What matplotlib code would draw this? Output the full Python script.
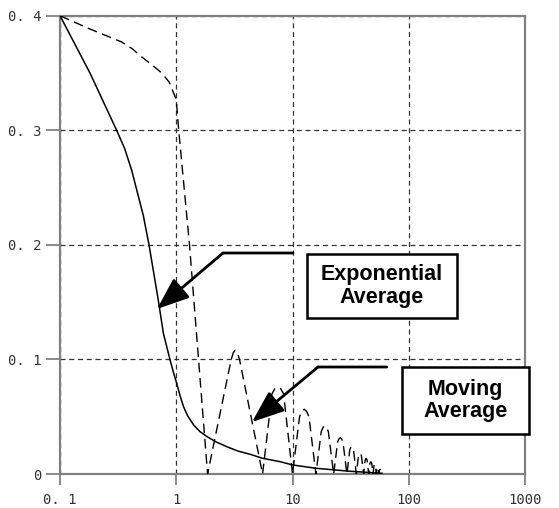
import matplotlib
matplotlib.use("Agg")
import matplotlib.pyplot as plt
from matplotlib.patches import Rectangle

# ---------------- data ----------------
x_ticks = [0.1, 1, 10, 100, 1000]
x_tick_labels = ["0. 1", "1", "10", "100", "1000"]
y_ticks = [0, 0.1, 0.2, 0.3, 0.4]
y_tick_labels = ["0", "0. 1", "0. 2", "0. 3", "0. 4"]

# exponential average (solid)
exp_x = [0.1, 0.181, 0.307, 0.36, 0.414, 0.521, 0.583, 0.70, 0.775, 0.885,
         0.95, 1.01, 1.08, 1.156, 1.25, 1.41, 1.6, 1.84, 2.2, 2.73, 3.4,
         4.33, 5.53, 7.85, 10.0, 15.9, 29.4, 59.0]
exp_y = [0.4, 0.350, 0.300, 0.284, 0.265, 0.2255, 0.200, 0.152, 0.1228, 0.0995,
         0.088, 0.079, 0.068, 0.0587, 0.051, 0.0428, 0.037, 0.0326, 0.028, 0.0238, 0.020,
         0.0172, 0.0137, 0.0107, 0.0079, 0.0050, 0.0026, 0.0006]

# moving average (dashed)
mov_x = [0.1, 0.175, 0.34, 0.42, 0.505, 0.62, 0.75, 0.87, 0.944, 1.0,
         1.05, 1.30, 1.555, 1.86,
         2.97, 3.1, 3.21, 3.35, 3.5, 5.53,
         6.66, 7.05, 7.45, 7.9, 8.38, 10.0,
         11.5, 12.05, 12.6, 13.2, 13.85, 15.9,
         17.67, 18.3, 18.96, 19.63, 20.34, 22.6,
         24.45, 25.1, 25.78, 26.47, 27.17, 29.4,
         31.08, 31.67, 32.26, 32.87, 33.49, 35.4,
         36.96, 37.51, 38.05, 38.6, 39.17, 40.9,
         42.14, 43.0, 43.86, 45.2,
         46.39, 47.21, 48.03, 49.3,
         50.27, 50.93, 51.59, 52.6,
         53.4, 54.0, 54.6, 55.4,
         56.1, 56.6, 57.1, 57.8]
mov_y = [0.4, 0.389, 0.377, 0.371, 0.364, 0.357, 0.350, 0.342, 0.333, 0.327,
         0.300, 0.200, 0.100, 0.0,
         0.100, 0.106, 0.108, 0.106, 0.100, 0.0,
         0.070, 0.0745, 0.0757, 0.0745, 0.070, 0.0,
         0.050, 0.0548, 0.0565, 0.0548, 0.050, 0.0,
         0.037, 0.0406, 0.0419, 0.0406, 0.037, 0.0,
         0.028, 0.0307, 0.0317, 0.0307, 0.028, 0.0,
         0.021, 0.0231, 0.0238, 0.0231, 0.021, 0.0,
         0.0159, 0.0175, 0.0180, 0.0175, 0.0159, 0.0,
         0.0121, 0.0137, 0.0121, 0.0,
         0.0094, 0.0107, 0.0094, 0.0,
         0.0075, 0.0085, 0.0075, 0.0,
         0.0053, 0.0060, 0.0053, 0.0,
         0.0035, 0.0040, 0.0035, 0.0]

labels = ["Exponential\nAverage", "Moving\nAverage"]

# ---------------- figure ----------------
W, H = 559, 508
fig = plt.figure(figsize=(W / 100, H / 100), dpi=100)
ax = fig.add_axes([60 / W, 1 - 474 / H, (525 - 60) / W, (474 - 15.7) / H])

ax.set_xscale("log")
ax.set_xlim(0.1, 1000)
ax.set_ylim(0, 0.4)

ax.plot(exp_x, exp_y, color="black", lw=1.1, zorder=3)
ax.plot(mov_x, mov_y, color="black", lw=1.0, dashes=(7, 4), zorder=3)

ax.set_xticks(x_ticks)
ax.set_xticklabels(x_tick_labels)
ax.set_yticks(y_ticks)
ax.set_yticklabels(y_tick_labels)
ax.minorticks_off()

for lab in ax.get_xticklabels() + ax.get_yticklabels():
    lab.set_fontfamily("DejaVu Sans Mono")
    lab.set_fontsize(10)
    lab.set_color("#333333")
ax.tick_params(axis="y", direction="out", length=10, width=1.2,
               color="#777777", pad=3)
ax.tick_params(axis="x", direction="out", length=8, width=1.2,
               color="#777777", pad=6)

ax.grid(True, linestyle=(0, (4, 3)), color="#333333", lw=0.9)
ax.set_axisbelow(True)
for s in ax.spines.values():
    s.set_color("#808080")
    s.set_linewidth(1.6)


def fx(px):
    return px / W


def fy(py):
    return 1 - py / H


# boxes
for (x0, y0, x1, y1) in [(306.7, 254, 456.7, 318), (401.7, 367, 529.3, 434)]:
    fig.add_artist(Rectangle((fx(x0), fy(y1)), fx(x1) - fx(x0), fy(y0) - fy(y1),
                             transform=fig.transFigure, fill=True,
                             facecolor="white", edgecolor="black", lw=1.8,
                             zorder=5))

fig.text(fx(381.7), fy(286), labels[0], ha="center", va="center",
         fontsize=15.5, fontweight="bold", family="Liberation Sans",
         linespacing=1.1, zorder=6)
fig.text(fx(465.5), fy(400.5), labels[1], ha="center", va="center",
         fontsize=15.5, fontweight="bold", family="Liberation Sans",
         linespacing=1.1, zorder=6)

# leader lines with arrows
for (hx, hy, kx, ky, tx, ty) in [(293, 253, 223, 253, 157, 309),
                                 (386.7, 367, 318, 367, 252, 422)]:
    ax.annotate("", xy=(fx(kx), fy(ky)), xytext=(fx(hx), fy(hy)),
                xycoords="figure fraction", textcoords="figure fraction",
                arrowprops=dict(arrowstyle="-", lw=2, color="black",
                                shrinkA=0, shrinkB=0),
                annotation_clip=False, zorder=6)
    ax.annotate("", xy=(fx(tx), fy(ty)), xytext=(fx(kx), fy(ky)),
                xycoords="figure fraction", textcoords="figure fraction",
                arrowprops=dict(arrowstyle="-|>,head_length=0.9,head_width=0.35",
                                lw=2, color="black", mutation_scale=22,
                                shrinkA=0, shrinkB=0),
                annotation_clip=False, zorder=6)

fig.savefig("out.png", dpi=100)
